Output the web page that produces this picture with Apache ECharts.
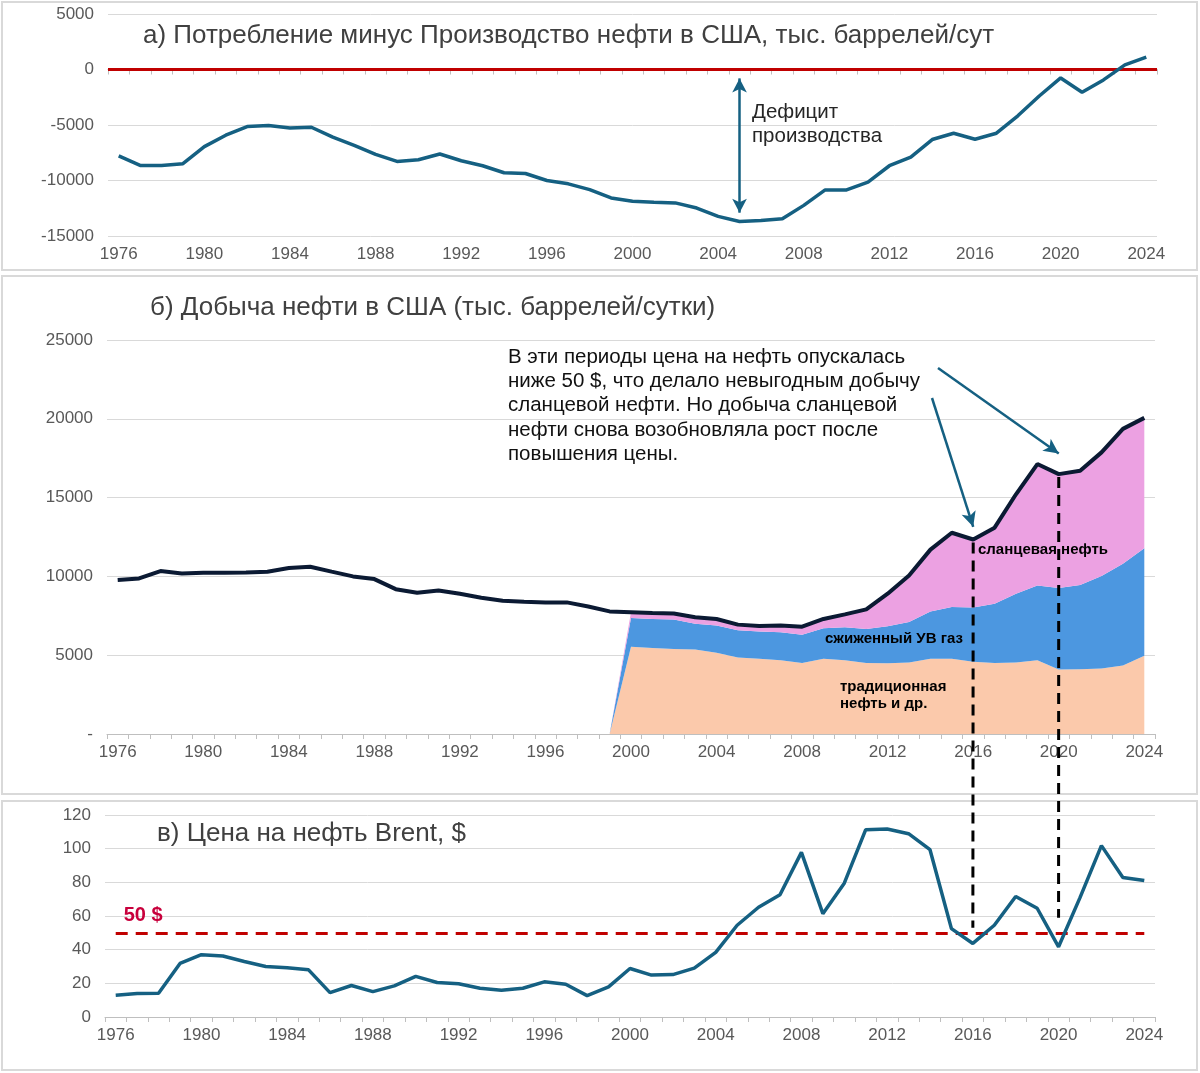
<!DOCTYPE html>
<html lang="ru">
<head>
<meta charset="utf-8">
<title>Нефть США</title>
<script src="https://cdn.jsdelivr.net/npm/echarts@6/dist/echarts.min.js"></script>
<style>
html, body { margin: 0; padding: 0; background: #fff; }
#main { width: 1200px; height: 1073px; }
</style>
</head>
<body>
<div id="main"></div>
<script>
// годы (категории оси X)
var years = ['1976','1977','1978','1979','1980','1981','1982','1983','1984','1985',
	'1986','1987','1988','1989','1990','1991','1992','1993','1994','1995',
	'1996','1997','1998','1999','2000','2001','2002','2003','2004','2005',
	'2006','2007','2008','2009','2010','2011','2012','2013','2014','2015',
	'2016','2017','2018','2019','2020','2021','2022','2023','2024'];

// а) потребление минус производство, тыс. барр/сут
var deficit = [-7790,-8640,-8640,-8490,-6950,-5920,-5140,-5050,-5260,-5200,
	-6100,-6830,-7640,-8280,-8130,-7610,-8220,-8670,-9300,-9370,
	-10000,-10300,-10820,-11570,-11870,-11960,-12020,-12480,-13230,-13690,
	-13600,-13440,-12240,-10850,-10850,-10150,-8670,-7890,-6310,-5740,
	-6280,-5740,-4170,-2390,-760,-2050,-940,420,1120];

// б) добыча всего
var production = [9770,9870,10340,10190,10230,10230,10250,10300,10530,10610,
	10300,10000,9830,9190,8960,9110,8900,8640,8450,8390,
	8350,8350,8090,7780,7730,7680,7640,7410,7300,6940,
	6860,6880,6810,7300,7590,7910,8900,10060,11700,12770,
	12340,13090,15210,17130,16490,16700,17870,19360,20060];

// структура добычи с 1999 года (до этого данных нет)
var conventional = [null,null,null,null,null,null,null,null,null,null,
	null,null,null,null,null,null,null,null,null,null,
	null,null,null,0,5530,5460,5400,5360,5150,4850,
	4770,4680,4510,4770,4680,4510,4490,4540,4770,4770,
	4580,4510,4540,4680,4090,4110,4160,4350,4960];
var ngl = [null,null,null,null,null,null,null,null,null,null,
	null,null,null,null,null,null,null,null,null,null,
	null,null,null,0,1830,1840,1860,1640,1730,1730,
	1730,1780,1780,1940,2090,2160,2350,2570,3010,3290,
	3440,3760,4360,4750,5170,5340,5860,6450,6830];
var shale = [null,null,null,null,null,null,null,null,null,null,
	null,null,null,null,null,null,null,null,null,null,
	null,null,null,0,370,380,380,410,420,360,
	360,420,520,590,820,1240,2060,2950,3920,4710,
	4320,4820,6310,7700,7230,7250,7850,8560,8270];

// в) Brent, $
var brent = [12.9,13.9,14.1,31.8,37.0,36.2,33.0,30.0,29.2,28.0,
	14.5,18.7,15.1,18.5,24.1,20.5,19.7,17.1,15.9,17.1,
	20.9,19.5,12.7,17.9,28.8,24.9,25.2,29.0,38.4,54.5,
	65.2,72.6,97.8,61.4,79.5,111.3,111.7,108.9,99.4,52.5,
	43.7,54.5,71.6,64.6,41.7,70.9,101.8,82.9,81.1];

var FONT = 'Liberation Sans, Arial, sans-serif';
var BLUE = '#156082';
var GREY = '#595959';

function xAxisFor(grid) {
	return {
		type : 'category',
		gridIndex : grid,
		data : years,
		boundaryGap : true,
		axisLine : { lineStyle : { color : '#bfbfbf', width : 1 } },
		axisTick : { show : true, interval : 0, length : 5, lineStyle : { color : '#bfbfbf' } },
		axisLabel : { interval : 3, color : GREY, fontSize : 17, fontFamily : FONT, margin : 10 }
	};
}
function yAxisFor(grid, min, max, step, fmt) {
	return {
		type : 'value',
		gridIndex : grid,
		min : min, max : max, interval : step,
		axisLine : { show : false },
		axisTick : { show : false },
		splitLine : { lineStyle : { color : '#d9d9d9', width : 1 } },
		axisLabel : { color : GREY, fontSize : 17, fontFamily : FONT, margin : 14,
			formatter : fmt || function(v) { return String(v); } }
	};
}

var myChart = echarts.init(document.getElementById('main'));

var titleStyle = { fontSize : 26, fontWeight : 'normal', color : '#404040', fontFamily : FONT };

var option = {
	animation : false,
	backgroundColor : '#fff',
	textStyle : { fontFamily : FONT },
	title : [
		{ text : 'а) Потребление минус Производство нефти в США, тыс. баррелей/сут', left : 143, top : 23, padding : 0, textStyle : titleStyle },
		{ text : 'б) Добыча нефти в США (тыс. баррелей/сутки)', left : 150, top : 295, padding : 0, textStyle : titleStyle },
		{ text : 'в) Цена на нефть Brent, $', left : 157, top : 821, padding : 0, textStyle : titleStyle }
	],
	grid : [
		{ left : 108, width : 1049, top : 14, height : 222 },
		{ left : 107, width : 1048, top : 340, height : 394 },
		{ left : 105, width : 1050, top : 815, height : 202 }
	],
	xAxis : [ xAxisFor(0), xAxisFor(1), xAxisFor(2) ],
	yAxis : [
		yAxisFor(0, -15000, 5000, 5000),
		yAxisFor(1, 0, 25000, 5000, function(v) { return v === 0 ? '-' : String(v); }),
		yAxisFor(2, 0, 120, 20)
	],
	series : [
		{
			name : 'deficit', type : 'line', xAxisIndex : 0, yAxisIndex : 0,
			data : deficit, showSymbol : false, symbol : 'none', z : 5,
			lineStyle : { color : BLUE, width : 3.5 },
			markLine : {
				silent : true, symbol : 'none', animation : false,
				label : { show : false },
				data : [
					{ yAxis : 0, lineStyle : { color : '#c00000', width : 3, type : 'solid' } },
					[
						{ coord : ['2005', -800], symbol : 'arrow', symbolSize : [11, 14],
							lineStyle : { color : BLUE, width : 2.5, type : 'solid' } },
						{ coord : ['2005', -12900], symbol : 'arrow', symbolSize : [11, 14] }
					]
				]
			}
		},
		{
			name : 'традиционная нефть и др.', type : 'line', xAxisIndex : 1, yAxisIndex : 1,
			stack : 'prod', data : conventional, symbol : 'none', connectNulls : false,
			lineStyle : { width : 0 }, areaStyle : { color : '#fbc9ab', opacity : 1 }, z : 2
		},
		{
			name : 'сжиженный УВ газ', type : 'line', xAxisIndex : 1, yAxisIndex : 1,
			stack : 'prod', data : ngl, symbol : 'none',
			lineStyle : { width : 0 }, areaStyle : { color : '#4c97e0', opacity : 1 }, z : 2
		},
		{
			name : 'сланцевая нефть', type : 'line', xAxisIndex : 1, yAxisIndex : 1,
			stack : 'prod', data : shale, symbol : 'none',
			lineStyle : { width : 0 }, areaStyle : { color : '#eca1e2', opacity : 1 }, z : 2
		},
		{
			name : 'добыча', type : 'line', xAxisIndex : 1, yAxisIndex : 1,
			data : production, symbol : 'none', z : 5,
			lineStyle : { color : '#0b1a33', width : 4 },
			markLine : {
				silent : true, symbol : ['none', 'arrow'], symbolSize : [11, 15],
				label : { show : false },
				lineStyle : { color : BLUE, width : 2.5, type : 'solid' },
				data : [
					[ { x : 932, y : 398 }, { coord : ['2016', 13150] } ],
					[ { x : 938, y : 368 }, { coord : ['2020', 17800] } ]
				]
			}
		},
		{
			name : 'Brent', type : 'line', xAxisIndex : 2, yAxisIndex : 2,
			data : brent, symbol : 'none', z : 5,
			lineStyle : { color : BLUE, width : 3.5 },
			markLine : {
				silent : true, symbol : 'none',
				lineStyle : { color : '#c00000', width : 3, type : [12, 8] },
				label : {
					show : true, position : 'insideStartTop', formatter : '50 $',
					color : '#c8003c', fontWeight : 'bold', fontSize : 20, fontFamily : FONT,
					distance : [8, 7]
				},
				data : [ [ { coord : ['1976', 50] }, { coord : ['2024', 50] } ] ]
			}
		}
	]
};
myChart.setOption(option);

// рамки панелей, подписи и пунктир, проходящий через две панели
var top2016 = myChart.convertToPixel({ gridIndex : 1 }, ['2016', production[40]]);
var bot2016 = myChart.convertToPixel({ gridIndex : 2 }, ['2016', 53]);
var top2020 = myChart.convertToPixel({ gridIndex : 1 }, ['2020', production[44]]);
var bot2020 = myChart.convertToPixel({ gridIndex : 2 }, ['2020', 59]);

var frameStyle = { fill : 'none', stroke : '#d9d9d9', lineWidth : 2 };
var boldFont = 'bold 15px ' + FONT;
var noteFont = '20.5px ' + FONT;

myChart.setOption({
	graphic : [
		{ type : 'rect', shape : { x : 2, y : 2, width : 1195, height : 268 }, style : frameStyle, silent : true, z : 0 },
		{ type : 'rect', shape : { x : 2, y : 276, width : 1195, height : 518 }, style : frameStyle, silent : true, z : 0 },
		{ type : 'rect', shape : { x : 2, y : 801, width : 1195, height : 269 }, style : frameStyle, silent : true, z : 0 },
		{ type : 'text', left : 752, top : 100, z : 10,
			style : { text : 'Дефицит\nпроизводства', font : noteFont, fill : '#262626', lineHeight : 24 } },
		{ type : 'text', left : 508, top : 345, z : 10,
			style : { text : 'В эти периоды цена на нефть опускалась\nниже 50 $, что делало невыгодным добычу\nсланцевой нефти. Но добыча сланцевой\nнефти снова возобновляла рост после\nповышения цены.',
				font : noteFont, fill : '#111', lineHeight : 24.3 } },
		{ type : 'text', left : 978, top : 542, z : 10, style : { text : 'сланцевая нефть', font : boldFont, fill : '#000' } },
		{ type : 'text', left : 825, top : 631, z : 10, style : { text : 'сжиженный УВ газ', font : boldFont, fill : '#000' } },
		{ type : 'text', left : 840, top : 678, z : 10, style : { text : 'традиционная\nнефть и др.', font : boldFont, fill : '#000', lineHeight : 17.5 } },
		{ type : 'line', z : 20, silent : true,
			shape : { x1 : top2016[0], y1 : top2016[1] + 3, x2 : bot2016[0], y2 : bot2016[1] },
			style : { stroke : '#000', lineWidth : 3, lineDash : [11, 7] } },
		{ type : 'line', z : 20, silent : true,
			shape : { x1 : top2020[0], y1 : top2020[1] + 3, x2 : bot2020[0], y2 : bot2020[1] },
			style : { stroke : '#000', lineWidth : 3, lineDash : [11, 7] } }
	]
});
</script>
</body>
</html>
